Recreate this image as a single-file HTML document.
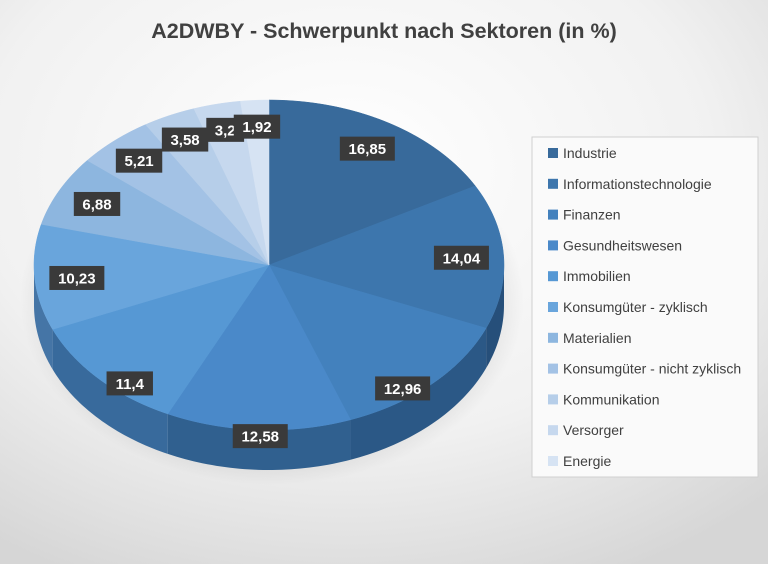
<!DOCTYPE html>
<html><head><meta charset="utf-8"><style>
html,body{margin:0;padding:0}
body{width:768px;height:564px;overflow:hidden;font-family:"Liberation Sans",sans-serif}
</style></head><body>
<svg id="chart" width="768" height="564" xmlns="http://www.w3.org/2000/svg">
<defs>
<radialGradient id="bg" cx="0.45" cy="0.3" r="0.8">
<stop offset="0" stop-color="#ffffff"/><stop offset="0.6" stop-color="#f1f1f1"/><stop offset="1" stop-color="#d6d6d6"/>
</radialGradient>
<radialGradient id="shadow" cx="0.5" cy="0.5" r="0.5">
<stop offset="0.7" stop-color="#000" stop-opacity="0.18"/><stop offset="1" stop-color="#000" stop-opacity="0"/>
</radialGradient>
</defs>
<rect width="768" height="564" fill="url(#bg)"/>
<text x="384" y="38" text-anchor="middle" font-size="21.5" font-weight="bold" fill="#404040">A2DWBY - Schwerpunkt nach Sektoren (in %)</text>
<ellipse cx="272" cy="300" rx="252" ry="185" fill="url(#shadow)"/>
<g id="sides"></g><g id="slices"></g><g id="labels"></g>
<rect x="532" y="137" width="226" height="340" fill="#fafafa" stroke="#d0d0d0"/>
<g id="legend"></g>
</svg>
<script>
const categories=["Industrie","Informationstechnologie","Finanzen","Gesundheitswesen","Immobilien","Konsumgüter - zyklisch","Materialien","Konsumgüter - nicht zyklisch","Kommunikation","Versorger","Energie"];
const values=[16.85,14.04,12.96,12.58,11.4,10.23,6.88,5.21,3.58,3.2,1.92];
const valueLabels=["16,85","14,04","12,96","12,58","11,4","10,23","6,88","5,21","3,58","3,2","1,92"];
const colors=["#386a9b","#3d76ad","#4381bd","#4a89c9","#5698d4","#69a5dc","#8db6df","#a3c2e5","#b6cee9","#c6d8ee","#d6e3f3"];
const sideColors=["#22466c","#264f7a","#2b5886","#30608f","#386a9c","#4575a6","#5c84ad","#6e91b5","#7f9dbd","#8ea8c4","#9cb3cb"];
const NS="http://www.w3.org/2000/svg";
const cx=269,cy=265,rx=235,ry=165,depth=40;
const total=values.reduce((a,b)=>a+b,0);
function pt(a,r=1){return [cx+rx*r*Math.sin(a),cy-ry*r*Math.cos(a)];}
function mk(tag,attrs,parent){const e=document.createElementNS(NS,tag);for(const k in attrs)e.setAttribute(k,attrs[k]);parent.appendChild(e);return e;}
const sides=document.getElementById('sides'),slices=document.getElementById('slices'),labels=document.getElementById('labels'),legend=document.getElementById('legend');
let cum=0;
values.forEach((v,i)=>{
  const a1=cum/total*2*Math.PI,a2=(cum+v)/total*2*Math.PI;cum+=v;
  const s1=Math.max(a1,Math.PI/2),s2=Math.min(a2,3*Math.PI/2);
  if(s2>s1){
    const top=[],N=40;
    for(let k=0;k<=N;k++)top.push(pt(s1+(s2-s1)*k/N));
    const bot=top.slice().reverse().map(p=>[p[0],p[1]+depth]);
    const side=mk('polygon',{points:top.concat(bot).map(p=>p.join(',')).join(' '),fill:sideColors[i]},sides);
    
    
  }
  const N=60;let d='M'+cx+','+cy;
  for(let k=0;k<=N;k++){const p=pt(a1+(a2-a1)*k/N);d+=' L'+p[0].toFixed(2)+','+p[1].toFixed(2);}
  d+=' Z';
  const sl=mk('path',{d:d,fill:colors[i],stroke:colors[i],'stroke-width':0.5},slices);
  
  
  const m=(a1+a2)/2;
  const f=v<6?0.84:0.82;
  let [lx,ly]=pt(m,f);
  if(Math.cos(m)<0)ly+= -Math.cos(m)*36;
  const w=valueLabels[i].length*8.6+12;
  const g=mk('g',{},labels);
  
  
  mk('rect',{x:lx-w/2,y:ly-12,width:w,height:24,fill:"#3a3a3a"},g);
  const t=mk('text',{x:lx,y:ly+5.5,'text-anchor':'middle','font-size':15,'font-weight':'bold',fill:'#fff'},g);
  t.textContent=valueLabels[i];
  const ly2=153+i*30.8;
  const le=mk('g',{},legend);
  
  
  mk('rect',{x:548,y:ly2-5,width:10,height:10,fill:colors[i]},le);
  const lt=mk('text',{x:563,y:ly2+5,'font-size':14,fill:'#404040'},le);
  lt.textContent=categories[i];
});
</script>
</body></html>
